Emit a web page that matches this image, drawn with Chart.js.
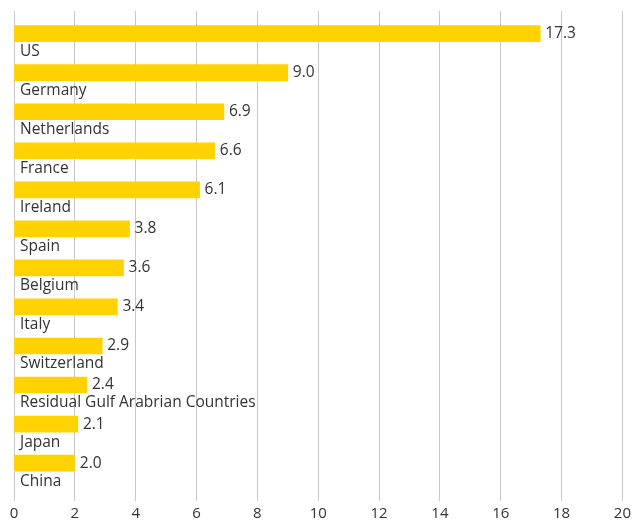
<!DOCTYPE html>
<html>
<head>
<meta charset="utf-8">
<script src="https://cdn.jsdelivr.net/npm/chart.js@4/dist/chart.umd.min.js"></script>
<style>
  html, body { margin: 0; padding: 0; background: #ffffff; }
  #wrap { width: 635px; height: 527px; position: relative; }
</style>
</head>
<body>
<div id="wrap"><canvas id="chart"></canvas></div>
<script>
// Country shares, largest first
const categories = ['US', 'Germany', 'Netherlands', 'France', 'Ireland', 'Spain',
  'Belgium', 'Italy', 'Switzerland', 'Residual Gulf Arabrian Countries', 'Japan', 'China'];
const values = [17.3, 9.0, 6.9, 6.6, 6.1, 3.8, 3.6, 3.4, 2.9, 2.4, 2.1, 2.0];
const xTicks = [0, 2, 4, 6, 8, 10, 12, 14, 16, 18, 20];

const FONT = '"Open Sans", "Noto Sans", sans-serif';
const TEXT = '#333333';

// Value at the bar end, country name beneath each bar
const barLabels = {
  id: 'barLabels',
  afterDatasetsDraw(chart) {
    const ctx = chart.ctx;
    const meta = chart.getDatasetMeta(0);
    ctx.save();
    ctx.fillStyle = TEXT;
    ctx.font = '15.5px ' + FONT;
    ctx.textBaseline = 'middle';
    meta.data.forEach((bar, i) => {
      ctx.textAlign = 'left';
      ctx.fillText(values[i].toFixed(1), bar.x + 5, bar.y);
      ctx.fillText(categories[i], chart.chartArea.left + 6, bar.y + 18);
    });
    ctx.restore();
  }
};

new Chart(document.getElementById('chart'), {
  type: 'bar',
  data: {
    datasets: [{
      data: values.map((v, i) => ({ x: v, y: i })),
      backgroundColor: '#FFD200',
      borderWidth: 0,
      barThickness: 16
    }]
  },
  options: {
    indexAxis: 'y',
    responsive: true,
    maintainAspectRatio: false,
    animation: false,
    layout: { padding: { left: 14, right: 10, top: 11, bottom: 0 } },
    plugins: { legend: { display: false }, tooltip: { enabled: false } },
    scales: {
      x: {
        type: 'linear',
        min: 0,
        max: 20,
        afterBuildTicks(scale) { scale.ticks = xTicks.map(v => ({ value: v })); },
        grid: { color: '#c8c8c8', lineWidth: 1, drawTicks: false },
        border: { display: false },
        ticks: {
          color: TEXT,
          font: { family: FONT, size: 15 },
          padding: 4,
          maxRotation: 0
        }
      },
      y: {
        type: 'linear',
        reverse: true,
        offset: false,
        min: -0.58,
        max: 11.97,
        display: false
      }
    }
  },
  plugins: [barLabels]
});
</script>
</body>
</html>
